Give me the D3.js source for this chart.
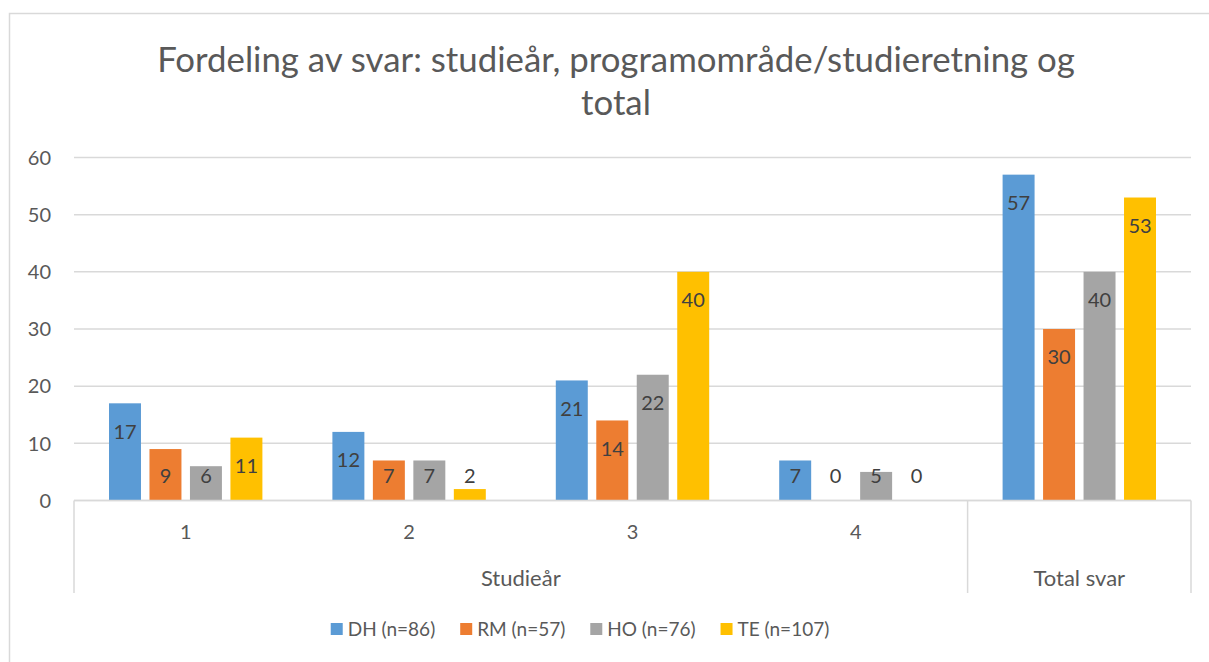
<!DOCTYPE html>
<html>
<head>
<meta charset="utf-8">
<script src="https://cdn.jsdelivr.net/npm/d3@7"></script>
<style>
  body { margin: 0; background: #fff; }
  text { font-family: Lato, "Open Sans", sans-serif; }
</style>
</head>
<body>
<div id="vis"></div>
<script>
// chart data
const CATEGORIES = ["1", "2", "3", "4", "Total svar"];
const CATEGORY_LABELS = ["1", "2", "3", "4", ""];
const CATEGORY_GROUPS = ["Studieår", "Studieår", "Studieår", "Studieår", "Total svar"];
const SERIES = ["DH (n=86)", "RM (n=57)", "HO (n=76)", "TE (n=107)"];
const DH = [17, 12, 21, 7, 57];
const RM = [9, 7, 14, 0, 30];
const HO = [6, 7, 22, 5, 40];
const TE = [11, 2, 40, 0, 53];
const Y_TICKS = [0, 10, 20, 30, 40, 50, 60];
const TITLE_LINES = ["Fordeling av svar: studieår, programområde/studieretning og", "total"];

const COLORS = ["#5B9BD5", "#ED7D31", "#A5A5A5", "#FFC000"];
const VALUES = [DH, RM, HO, TE];

// frame
const FRAME_WIDTH = 1209;
const FRAME_HEIGHT = 662;
const PLOT = {left: 74, right: 1191, top: 157.5, bottom: 500.5};

const svg = d3.select("#vis")
  .append("svg")
    .attr("width", FRAME_WIDTH)
    .attr("height", FRAME_HEIGHT);

// outer chart border
svg.append("rect")
  .attr("x", 9.5).attr("y", 13.5)
  .attr("width", 1220).attr("height", 700)
  .attr("fill", "#fff")
  .attr("stroke", "#d9d9d9")
  .attr("stroke-width", 1.5);

// title
svg.append("g").selectAll("text")
  .data(TITLE_LINES)
  .enter()
  .append("text")
    .attr("x", 616)
    .attr("y", (d, i) => 72 + i * 43)
    .attr("text-anchor", "middle")
    .attr("font-size", "34.8px")
    .attr("fill", "#595959")
    .text(d => d);

// scales
const X_SCALE = d3.scaleBand()
  .domain(CATEGORIES)
  .range([PLOT.left, PLOT.right])
  .padding(0);

const X_INNER = d3.scaleBand()
  .domain(d3.range(SERIES.length))
  .range([35, X_SCALE.bandwidth() - 35])
  .paddingInner(0.21);

const Y_SCALE = d3.scaleLinear()
  .domain([0, 60])
  .range([PLOT.bottom, PLOT.top]);

// gridlines + y labels
svg.append("g").selectAll("line")
  .data(Y_TICKS)
  .enter()
  .append("line")
    .attr("x1", PLOT.left).attr("x2", PLOT.right)
    .attr("y1", d => Y_SCALE(d)).attr("y2", d => Y_SCALE(d))
    .attr("stroke", "#d9d9d9")
    .attr("stroke-width", 1.5);

svg.append("g").selectAll("text")
  .data(Y_TICKS)
  .enter()
  .append("text")
    .attr("x", 51)
    .attr("y", d => Y_SCALE(d))
    .attr("dy", "0.36em")
    .attr("text-anchor", "end")
    .attr("font-size", "20px")
    .attr("fill", "#595959")
    .text(d => d);

// bars
const bars = svg.append("g");
VALUES.forEach((vals, s) => {
  bars.selectAll(".bar-" + s)
    .data(vals)
    .enter()
    .append("rect")
      .attr("class", "bar-" + s)
      .attr("x", (d, i) => X_SCALE(CATEGORIES[i]) + X_INNER(s))
      .attr("y", d => Y_SCALE(d))
      .attr("width", X_INNER.bandwidth())
      .attr("height", d => Y_SCALE(0) - Y_SCALE(d))
      .attr("fill", COLORS[s]);

  // labels, inside end, kept above the baseline
  bars.selectAll(".lab-" + s)
    .data(vals)
    .enter()
    .append("text")
      .attr("class", "lab-" + s)
      .attr("x", (d, i) => X_SCALE(CATEGORIES[i]) + X_INNER(s) + X_INNER.bandwidth() / 2)
      .attr("y", d => Math.min(Y_SCALE(d) + 28, Y_SCALE(0) - 25))
      .attr("dy", "0.36em")
      .attr("text-anchor", "middle")
      .attr("font-size", "20px")
      .attr("fill", "#404040")
      .text(d => d);
});

// category axis
const axis = svg.append("g")
  .attr("stroke", "#d9d9d9")
  .attr("stroke-width", 1.5);
axis.append("line")
  .attr("x1", PLOT.left).attr("x2", PLOT.right)
  .attr("y1", PLOT.bottom).attr("y2", PLOT.bottom);

// separators at group edges
const groupNames = Array.from(new Set(CATEGORY_GROUPS));
const groups = groupNames.map(g => {
  const idx = CATEGORY_GROUPS.map((c, i) => c === g ? i : -1).filter(i => i >= 0);
  const x0 = X_SCALE(CATEGORIES[idx[0]]);
  const x1 = X_SCALE(CATEGORIES[idx[idx.length - 1]]) + X_SCALE.bandwidth();
  return {name: g, x0: x0, x1: x1};
});
const edges = [groups[0].x0].concat(groups.map(g => g.x1));
axis.selectAll(".sep")
  .data(edges)
  .enter()
  .append("line")
    .attr("class", "sep")
    .attr("x1", d => d).attr("x2", d => d)
    .attr("y1", PLOT.bottom).attr("y2", 593);

svg.append("g").selectAll("text")
  .data(CATEGORY_LABELS)
  .enter()
  .append("text")
    .attr("x", (d, i) => X_SCALE(CATEGORIES[i]) + X_SCALE.bandwidth() / 2)
    .attr("y", 532)
    .attr("dy", "0.36em")
    .attr("text-anchor", "middle")
    .attr("font-size", "20px")
    .attr("fill", "#595959")
    .text(d => d);

svg.append("g").selectAll("text")
  .data(groups)
  .enter()
  .append("text")
    .attr("x", d => (d.x0 + d.x1) / 2)
    .attr("y", 578)
    .attr("dy", "0.36em")
    .attr("text-anchor", "middle")
    .attr("font-size", "22px")
    .attr("fill", "#595959")
    .text(d => d.name);

// legend
const legend = svg.append("g");
const items = legend.selectAll("g")
  .data(SERIES)
  .enter()
  .append("g");
items.append("rect")
  .attr("width", 12).attr("height", 12)
  .attr("y", 623)
  .attr("fill", (d, i) => COLORS[i]);
items.append("text")
  .attr("x", 17)
  .attr("y", 629)
  .attr("dy", "0.36em")
  .attr("font-size", "19px")
  .attr("fill", "#595959")
  .text(d => d);

let widths = [];
items.each(function() { widths.push(this.getBBox().width); });
const GAP = 25;
const total = d3.sum(widths) + GAP * (widths.length - 1);
let cx = 580 - total / 2;
items.attr("transform", (d, i) => {
  const t = "translate(" + cx + ",0)";
  cx += widths[i] + GAP;
  return t;
});
</script>
</body>
</html>
